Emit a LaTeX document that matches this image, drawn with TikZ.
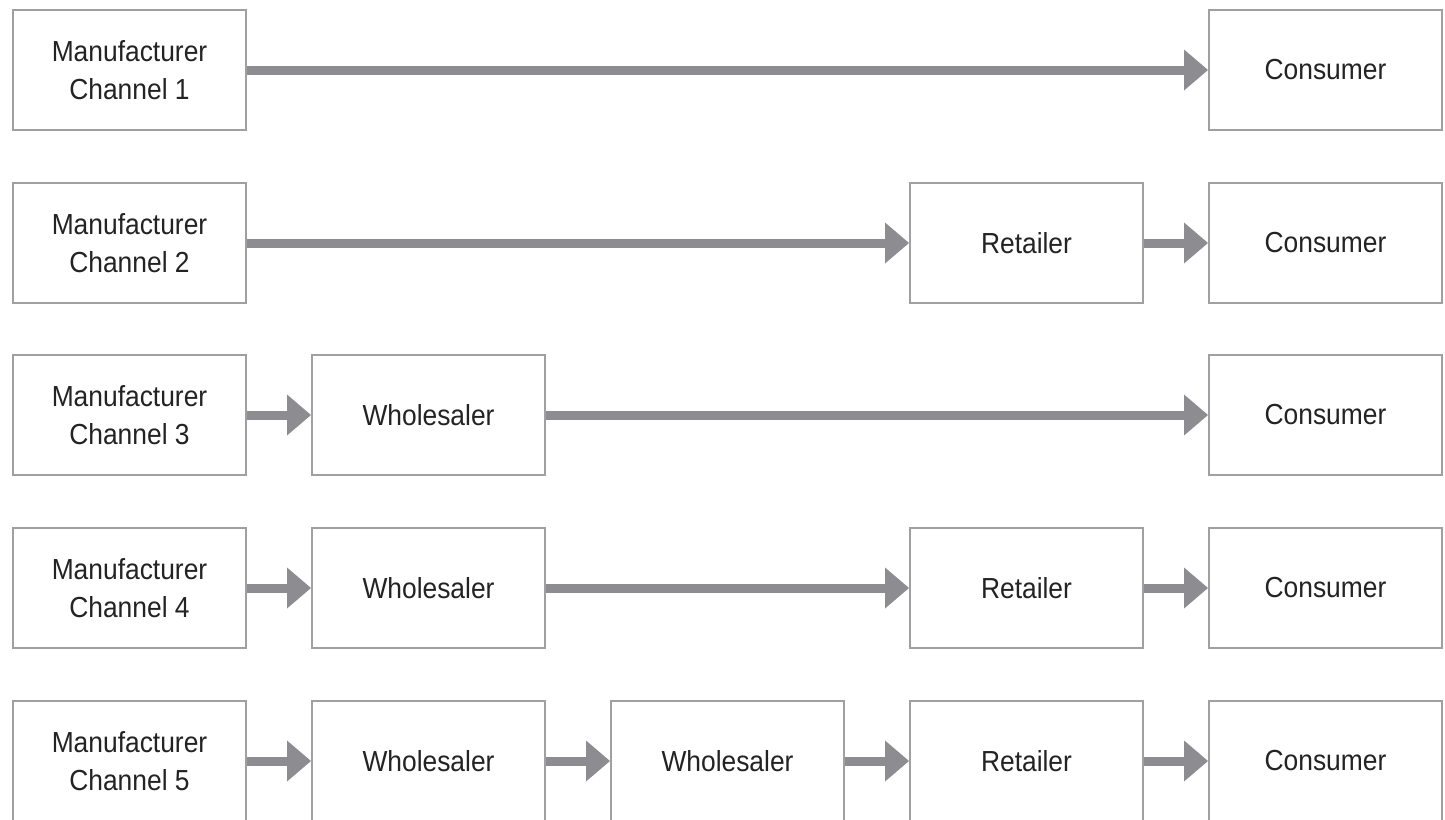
\documentclass[tikz,border=0pt]{standalone}
\usepackage{fontspec}
\setmainfont{Liberation Sans}[FakeStretch=0.91]
\usetikzlibrary{arrows.meta}

\definecolor{boxgray}{RGB}{160,160,160}
\definecolor{flowgray}{RGB}{140,140,145}
\definecolor{txtgray}{RGB}{35,35,35}

\begin{document}
\begin{tikzpicture}[x=0.5pt,y=-0.5pt,
    stage/.style={draw=boxgray,line width=1pt,fill=white,minimum width=116.5pt,
      minimum height=60pt,inner sep=0pt,align=center,text=txtgray,
      font=\fontsize{14.5}{19}\selectfont},
    flow/.style={draw=flowgray,line width=4.5pt,
      -{Triangle[length=12pt,width=20.5pt,line width=0pt]}}]

    \useasboundingbox (0,0) rectangle (1445,819);

    % channel 1
    \node[stage] (m1) at (129.5,70) {Manufacturer\\Channel 1};
    \node[stage] (c1) at (1325.5,70) {Consumer};

    % channel 2
    \node[stage] (m2) at (129.5,243) {Manufacturer\\Channel 2};
    \node[stage] (r2) at (1026.5,243) {Retailer};
    \node[stage] (c2) at (1325.5,243) {Consumer};

    % channel 3
    \node[stage] (m3) at (129.5,415) {Manufacturer\\Channel 3};
    \node[stage] (w3) at (428.5,415) {Wholesaler};
    \node[stage] (c3) at (1325.5,415) {Consumer};

    % channel 4
    \node[stage] (m4) at (129.5,588) {Manufacturer\\Channel 4};
    \node[stage] (w4) at (428.5,588) {Wholesaler};
    \node[stage] (r4) at (1026.5,588) {Retailer};
    \node[stage] (c4) at (1325.5,588) {Consumer};

    % channel 5
    \node[stage] (m5) at (129.5,761) {Manufacturer\\Channel 5};
    \node[stage] (w5) at (428.5,761) {Wholesaler};
    \node[stage] (v5) at (727.5,761) {Wholesaler};
    \node[stage] (r5) at (1026.5,761) {Retailer};
    \node[stage] (c5) at (1325.5,761) {Consumer};

    \draw[flow] (m1) -- (c1);

    \draw[flow] (m2) -- (r2);
    \draw[flow] (r2) -- (c2);

    \draw[flow] (m3) -- (w3);
    \draw[flow] (w3) -- (c3);

    \draw[flow] (m4) -- (w4);
    \draw[flow] (w4) -- (r4);
    \draw[flow] (r4) -- (c4);

    \draw[flow] (m5) -- (w5);
    \draw[flow] (w5) -- (v5);
    \draw[flow] (v5) -- (r5);
    \draw[flow] (r5) -- (c5);
\end{tikzpicture}
\end{document}
